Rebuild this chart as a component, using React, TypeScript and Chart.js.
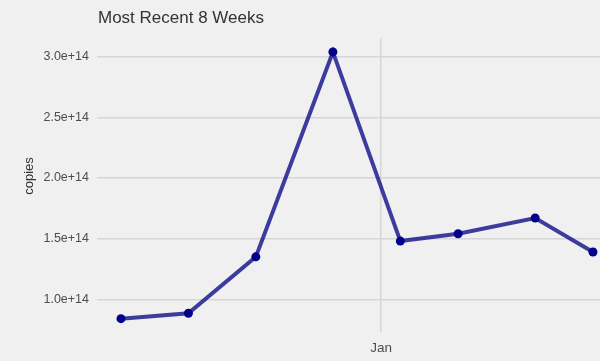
import React, { useEffect, useRef } from "react";
import { Chart, registerables } from "chart.js";

Chart.register(...registerables);

const titleText = "Most Recent 8 Weeks";
const yAxisTitle = "copies";
// days since Dec 5
const dayOffsets = [0, 7, 14, 22, 29, 35, 43, 49];
const copies = [0.84e14, 0.885e14, 1.35e14, 3.04e14, 1.48e14, 1.54e14, 1.67e14, 1.39e14];
const yTickValues = [1.0e14, 1.5e14, 2.0e14, 2.5e14, 3.0e14];
const xTickValues = [27];
const xTickLabels = ["Jan"];

const FONT = "'Liberation Sans', Arial, sans-serif";
const BG = "#f0f0f0";

export default function App() {
  const ref = useRef<HTMLCanvasElement | null>(null);

  useEffect(() => {
    if (!ref.current) return;
    const textPlugin = {
      id: "texts",
      beforeDraw(chart: any) {
        const ctx = chart.ctx;
        ctx.save();
        ctx.fillStyle = BG;
        ctx.fillRect(0, 0, chart.width, chart.height);
        ctx.restore();
      },
      afterDraw(chart: any) {
        const ctx = chart.ctx;
        const area = chart.chartArea;
        ctx.save();
        ctx.fillStyle = "#333333";
        ctx.font = `17px ${FONT}`;
        ctx.textAlign = "left";
        ctx.textBaseline = "alphabetic";
        ctx.fillText(titleText, area.left + 1, 23);
        ctx.translate(29, 176);
        ctx.rotate(-Math.PI / 2);
        ctx.font = `13px ${FONT}`;
        ctx.textAlign = "center";
        ctx.textBaseline = "middle";
        ctx.fillStyle = "#333333";
        ctx.fillText(yAxisTitle, 0, 0);
        ctx.restore();
      },
    };

    const chart = new Chart(ref.current, {
      type: "line",
      data: {
        datasets: [
          {
            data: dayOffsets.map((d, i) => ({ x: d, y: copies[i] })),
            borderColor: "rgba(0,0,130,0.75)",
            borderWidth: 4,
            pointRadius: 4.5,
            pointBackgroundColor: "#00008B",
            pointBorderWidth: 0,
            tension: 0,
          },
        ],
      },
      options: {
        animation: false,
        responsive: false,
        maintainAspectRatio: false,
        layout: { autoPadding: false, padding: { top: 38, left: 0, right: 0, bottom: 0 } },
        plugins: {
          legend: { display: false },
          tooltip: { enabled: false },
          title: { display: false },
        },
        scales: {
          x: {
            type: "linear",
            min: -2.49,
            max: 49.73,
            afterBuildTicks: (scale: any) => {
              scale.ticks = xTickValues.map((v) => ({ value: v }));
            },
            afterFit: (scale: any) => {
              scale.height = 29;
            },
            ticks: {
              callback: (v: any) => {
                const i = xTickValues.indexOf(Number(v));
                return i >= 0 ? xTickLabels[i] : "";
              },
              font: { family: FONT, size: 13.5 },
              color: "#4d4d4d",
              padding: 8,
              maxRotation: 0,
              autoSkip: false,
            },
            grid: { color: "#d6d6d6", lineWidth: 1.5, drawTicks: false },
            border: { display: false },
          },
          y: {
            type: "linear",
            min: 0.73e14,
            max: 3.155e14,
            afterBuildTicks: (scale: any) => {
              scale.ticks = yTickValues.map((v) => ({ value: v }));
            },
            afterFit: (scale: any) => {
              scale.width = 97;
            },
            ticks: {
              callback: (v: any) => Number(v).toExponential(1),
              font: { family: FONT, size: 12.5 },
              color: "#4d4d4d",
              padding: 8,
            },
            grid: { color: "#d6d6d6", lineWidth: 1.5, drawTicks: false },
            border: { display: false },
          },
        },
      },
      plugins: [textPlugin],
    });
    return () => chart.destroy();
  }, []);

  return (
    <div style={{ position: "fixed", left: 0, top: 0, width: 600, height: 361, background: BG }}>
      <canvas ref={ref} width={600} height={361} style={{ display: "block", width: 600, height: 361 }} />
    </div>
  );
}
